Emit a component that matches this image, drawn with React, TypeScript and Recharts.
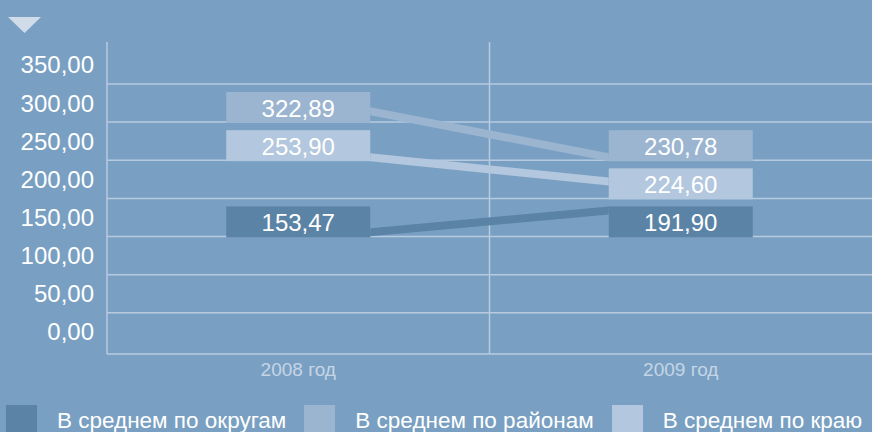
import { ComposedChart, Line, XAxis, YAxis, CartesianGrid, ReferenceLine } from 'recharts'

const years = ['2008 год', '2009 год']
const okrug = [153.47, 191.9]
const rayon = [322.89, 230.78]
const kray = [253.9, 224.6]
const yTicks = [0, 50, 100, 150, 200, 250, 300, 350]

const step = 50
const gridLines = yTicks.slice(1).map((t, i) => (t + yTicks[i]) / 2)

const series = [
  { key: 'okrug', name: 'В среднем по округам', values: okrug, color: '#5b83a6' },
  { key: 'rayon', name: 'В среднем по районам', values: rayon, color: '#9bb5d1' },
  { key: 'kray', name: 'В среднем по краю', values: kray, color: '#b3c7de' },
]

const bg = '#79a0c2'
const gridColor = '#b7cadf'
const boxW = 144
const boxH = 31
const half = 4

const fmt = (v: number) => v.toFixed(2).replace('.', ',')

// each box snaps to the nearest band; lower values move down when a band is taken
const rows = years.map((year, i) => {
  const row: Record<string, any> = { year }
  const sorted = series.map(s => ({ key: s.key, v: s.values[i] })).sort((a, b) => b.v - a.v)
  const used = new Set<number>()
  sorted.forEach(({ key, v }) => {
    let slot = Math.round(v / step) * step
    while (used.has(slot)) slot -= step
    used.add(slot)
    row[key] = v
    row[key + 'Slot'] = slot
  })
  return row
})

const boxes: Record<string, { left: number; right: number; top: number; bottom: number }> = {}
const valueYs: Record<string, number> = {}

const clamp = (v: number, lo: number, hi: number) => Math.min(hi, Math.max(lo, v))

const boxDot = (key: string, color: string) => (props: any) => {
  const { cx, cy, index, payload } = props
  if (cx == null || cy == null) return <g key={`b-${key}-${index}`} />
  const top = cy - 11
  boxes[`${key}-${index}`] = { left: cx - boxW / 2, right: cx + boxW / 2, top, bottom: top + boxH }
  return (
    <g key={`b-${key}-${index}`}>
      <rect x={cx - boxW / 2} y={top} width={boxW} height={boxH} fill={color} />
      <text x={cx} y={top + boxH / 2 + 1} textAnchor='middle' dominantBaseline='central'
            fill='#ffffff' fontSize={24}>
        {fmt(payload[key])}
      </text>
    </g>
  )
}

const segDot = (key: string, color: string) => (props: any) => {
  const { cy, index } = props
  if (cy == null) return <g key={`s-${key}-${index}`} />
  valueYs[`${key}-${index}`] = cy
  const b0 = boxes[`${key}-0`]
  const b1 = boxes[`${key}-1`]
  if (index !== 1 || !b0 || !b1 || valueYs[`${key}-0`] == null) return <g key={`s-${key}-${index}`} />
  const y0 = clamp(valueYs[`${key}-0`], b0.top + half, b0.bottom - half)
  const y1 = clamp(cy, b1.top + half, b1.bottom - half)
  const pts = `${b0.right},${y0 - half} ${b1.left},${y1 - half} ${b1.left},${y1 + half} ${b0.right},${y0 + half}`
  return <polygon key={`s-${key}-${index}`} points={pts} fill={color} />
}

export default function App() {
  return (
    <div style={{ position: 'fixed', left: 0, top: 0, width: 872, height: 432, background: bg,
                  fontFamily: '"Liberation Sans", Arial, sans-serif', overflow: 'hidden' }}>
      <svg width={33} height={16} style={{ position: 'absolute', left: 8, top: 17 }}>
        <polygon points='0,0 33,0 16.5,16' fill='#d0dcea' />
      </svg>
      <ComposedChart width={872} height={432} data={rows}
                     margin={{ top: 42, right: 0, bottom: 0, left: 0 }}>
        <CartesianGrid yAxisId='band' stroke={gridColor} strokeWidth={1.5}
                       horizontalValues={gridLines} vertical={false} />
        <XAxis dataKey='year' scale='band' height={78}
               tickLine={false} tickSize={0} tickMargin={9}
               axisLine={{ stroke: gridColor, strokeWidth: 1.5 }}
               tick={{ fill: '#c6d5e6', fontSize: 19 }} />
        <YAxis yAxisId='band' type='number' domain={[-29, 380]} ticks={yTicks} width={107}
               tickLine={false} tickSize={0} tickMargin={13} tickFormatter={fmt}
               axisLine={{ stroke: gridColor, strokeWidth: 1.5 }}
               tick={{ fill: '#ffffff', fontSize: 24 }} />
        <YAxis yAxisId='value' type='number' domain={[-17, 420]} hide />
        {years.slice(1).map(y => (
          <ReferenceLine key={y} x={y} position='start' yAxisId='band'
                         stroke={gridColor} strokeWidth={1.5} />
        ))}
        {series.map(s => (
          <Line key={s.key + 'Box'} yAxisId='band' dataKey={s.key + 'Slot'} stroke='none'
                dot={boxDot(s.key, s.color)} activeDot={false} legendType='none'
                isAnimationActive={false} />
        ))}
        {series.map(s => (
          <Line key={s.key} yAxisId='value' dataKey={s.key} name={s.name} stroke='none'
                dot={segDot(s.key, s.color)} activeDot={false}
                isAnimationActive={false} />
        ))}
      </ComposedChart>
      <div style={{ position: 'absolute', left: 6, top: 405, display: 'flex', alignItems: 'flex-start' }}>
        {series.map(s => (
          <div key={s.key} style={{ display: 'flex', alignItems: 'flex-start', marginRight: 18 }}>
            <div style={{ width: 31, height: 27, background: s.color, marginRight: 20 }} />
            <span style={{ color: '#ffffff', fontSize: 22.5, lineHeight: '22px', marginTop: 5,
                           whiteSpace: 'nowrap' }}>
              {s.name}
            </span>
          </div>
        ))}
      </div>
    </div>
  )
}
